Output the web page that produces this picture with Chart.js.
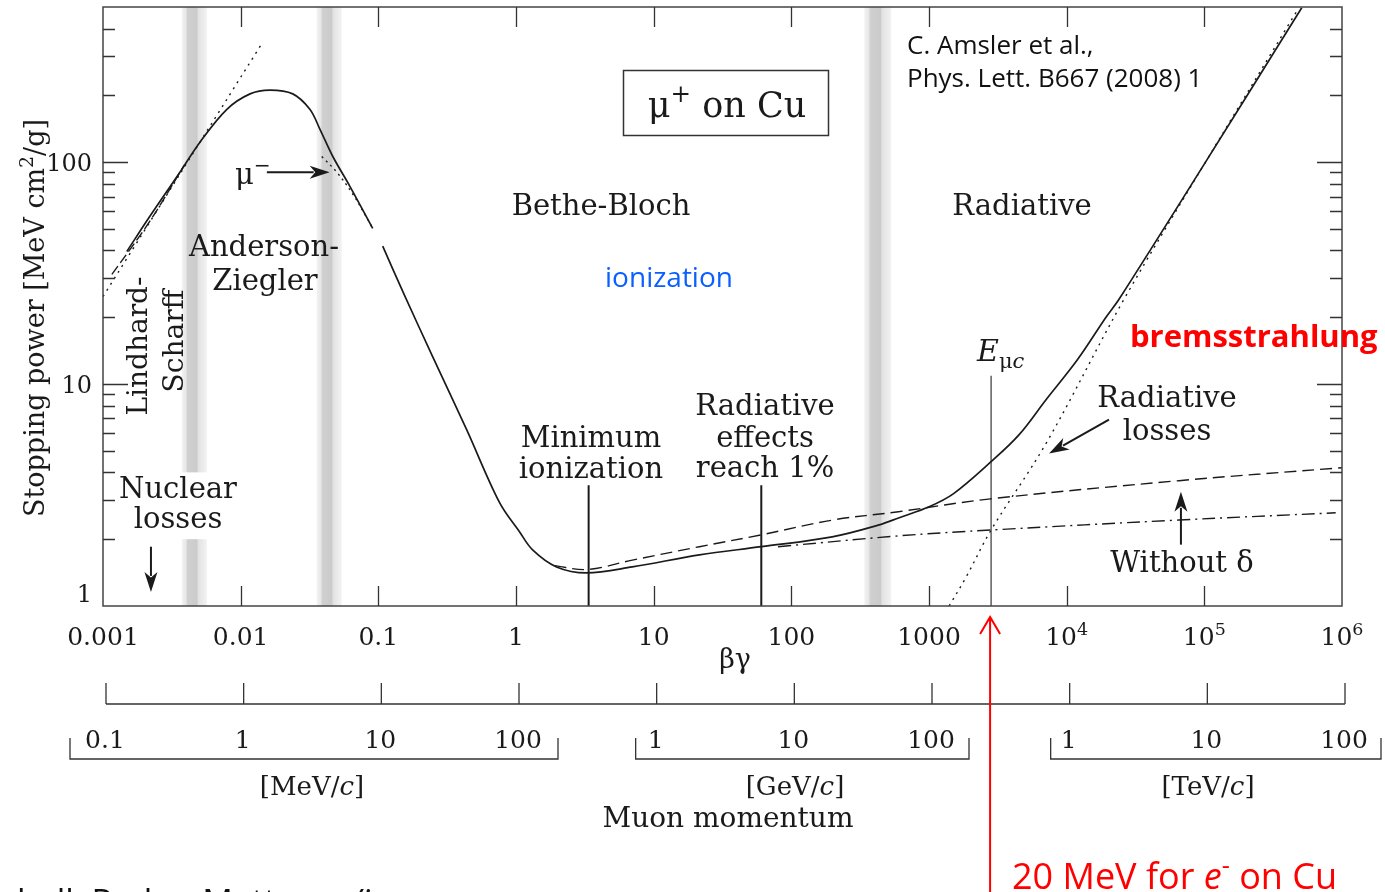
<!DOCTYPE html>
<html>
<head>
<meta charset="utf-8">
<title>Stopping power for μ+ on Cu</title>
<script src="https://cdn.jsdelivr.net/npm/chart.js@4.4.1/dist/chart.umd.min.js"></script>
<style>
  html, body { margin: 0; padding: 0; background: #fff; }
  #wrap { width: 1385px; height: 892px; }
</style>
</head>
<body>
<div id="wrap"><canvas id="chart" width="1385" height="892"></canvas></div>
<script>
// beta*gamma and stopping power [MeV cm2/g]
const totalBg = [0.00149, 0.00219, 0.00362, 0.00506, 0.00794, 0.0117, 0.0163, 0.0239, 0.0318, 0.0376, 0.0467, 0.062, 0.091,
  0.1, 0.1076, 0.155, 0.248, 0.438, 0.76, 1.06, 1.32, 1.97, 3.25, 7.0, 21.5, 60.5, 198, 435, 608, 1002, 1500, 2825, 4500, 7080,
  12000, 19300, 24000, 102000, 510000];
const totalS = [39.6, 57, 90, 123, 173, 203, 211, 203, 173, 141, 106, 78, 50.3,
  null, 41.8, 25.1, 13.3, 6.23, 2.92, 2.16, 1.79, 1.50, 1.41, 1.50, 1.70, 1.85, 2.05, 2.32, 2.5, 2.8, 3.2, 4.47, 5.9, 8.5,
  12.9, 20, 24.1, 100, 496];

// without density effect (dashed)
const noDeltaBg = [1.9, 3.3, 7, 21.5, 60, 200, 600, 2800, 65500, 1000000];
const noDeltaS = [1.52, 1.46, 1.61, 1.85, 2.09, 2.44, 2.66, 3.04, 3.67, 4.2];

// ionization only (dash-dot)
const ionBg = [80, 600, 2800, 65500, 900000];
const ionS = [1.85, 2.07, 2.2, 2.44, 2.63];

// radiative losses (dotted)
const radBg = [1400, 1860, 2825, 7080, 26000, 102000, 480000];
const radS = [1.0, 1.35, 2.2, 5.4, 24, 100, 490];

// low energy: Lindhard-Scharff (dashed) and dotted extrapolation
const lindBg = [0.00116, 0.00219, 0.0039];
const lindS = [31.2, 54.2, 97];
const lowDotBg = [0.001, 0.0145];
const lowDotS = [24.8, 348];

// mu- (dotted)
const muMinusBg = [0.0388, 0.05, 0.065, 0.08, 0.091];
const muMinusS = [106, 90, 72, 58, 50.3];

// marker lines
const minIonBg = 3.37;
const rad1Bg = 60.5;
const eMuC = 2825;
const markTop = 3.5;
const eMuCTop = 10.9;

// shaded regions (beta*gamma ranges)
const bands = [[0.00374, 0.00569], [0.0357, 0.0542], [339, 532]];
const nuclearGap = [2.0, 4.0];

// ticks
const xDecades = [0.001, 0.01, 0.1, 1, 10, 100, 1000, 1e4, 1e5, 1e6];
const xTickText = ['0.001', '0.01', '0.1', '1', '10', '100', '1000', '10^4', '10^5', '10^6'];
const yMajor = [1, 10, 100];
const yMinor = [2, 3, 4, 5, 6, 7, 8, 9, 20, 30, 40, 50, 60, 70, 80, 90, 200, 300, 400];
const momLabels = ['0.1', '1', '10', '100', '1', '10', '100', '1', '10', '100'];
const momUnits = ['[MeV/c]', '[GeV/c]', '[TeV/c]'];

// arrows [bg0, S0, bg1, S1]
const arrows = [
  [0.0155, 90.1, 0.0443, 90.1],
  [0.00223, 1.85, 0.00223, 1.157],
  [20300, 6.92, 7450, 4.86],
  [67600, 1.89, 67600, 3.27]
];

const SERIF = "'DejaVu Serif', serif";
const SANS = "'Open Sans', 'Noto Sans', sans-serif";
const INK = '#1a1a1a';

function pts(xs, ys) {
  return xs.map((x, i) => ({ x: x, y: ys[i] }));
}

function parseLabel(s) {
  const k = s.indexOf('^');
  if (k < 0) return [{ t: s }];
  return [{ t: s.slice(0, k) }, { t: s.slice(k + 1), sup: true }];
}

function rich(ctx, parts, x, y, size, family, align, color) {
  const fontOf = p => {
    const s = (p.sup || p.sub) ? size * 0.7 : size;
    return (p.it ? 'italic ' : '') + (p.bold ? 'bold ' : '') + s + 'px ' + family;
  };
  let w = 0;
  parts.forEach(p => { ctx.font = fontOf(p); p.w = ctx.measureText(p.t).width; w += p.w; });
  let cx = align === 'center' ? x - w / 2 : align === 'right' ? x - w : x;
  ctx.fillStyle = color || INK;
  ctx.textAlign = 'left';
  ctx.textBaseline = 'alphabetic';
  parts.forEach(p => {
    ctx.font = fontOf(p);
    const dy = p.sup ? -size * 0.42 : p.sub ? size * 0.22 : 0;
    ctx.fillText(p.t, cx, y + dy);
    cx += p.w;
  });
}

function arrow(ctx, x0, y0, x1, y1, len, half) {
  const a = Math.atan2(y1 - y0, x1 - x0);
  ctx.beginPath();
  ctx.moveTo(x0, y0);
  ctx.lineTo(x1 - Math.cos(a) * len * 0.8, y1 - Math.sin(a) * len * 0.8);
  ctx.stroke();
  ctx.beginPath();
  ctx.moveTo(x1, y1);
  ctx.lineTo(x1 - Math.cos(a) * len + Math.sin(a) * half, y1 - Math.sin(a) * len - Math.cos(a) * half);
  ctx.lineTo(x1 - Math.cos(a) * len * 0.72, y1 - Math.sin(a) * len * 0.72);
  ctx.lineTo(x1 - Math.cos(a) * len - Math.sin(a) * half, y1 - Math.sin(a) * len + Math.cos(a) * half);
  ctx.closePath();
  ctx.fill();
}

const decor = {
  id: 'decor',
  beforeDatasetsDraw(chart) {
    const { ctx, chartArea: a, scales: { x, y } } = chart;
    ctx.save();
    bands.forEach(([lo, hi]) => {
      const x0 = x.getPixelForValue(lo), x1 = x.getPixelForValue(hi);
      const g = ctx.createLinearGradient(x0, 0, x1, 0);
      g.addColorStop(0, '#f3f3f3');
      g.addColorStop(0.17, '#e6e6e6');
      g.addColorStop(0.22, '#d0d0d0');
      g.addColorStop(0.6, '#cbcbcb');
      g.addColorStop(0.66, '#e2e2e2');
      g.addColorStop(1, '#f3f3f3');
      ctx.fillStyle = g;
      ctx.fillRect(x0, a.top, x1 - x0, a.bottom - a.top);
    });
    // white gap behind "Nuclear losses"
    const b = bands[0];
    ctx.fillStyle = '#fff';
    const gx0 = x.getPixelForValue(b[0]) - 1, gx1 = x.getPixelForValue(b[1]) + 1;
    const gy0 = y.getPixelForValue(nuclearGap[1]), gy1 = y.getPixelForValue(nuclearGap[0]);
    ctx.fillRect(gx0, gy0, gx1 - gx0, gy1 - gy0);
    ctx.restore();
  },
  afterDatasetsDraw(chart) {
    const { ctx, chartArea: a, scales: { x, y } } = chart;
    ctx.save();

    // frame
    ctx.strokeStyle = '#444';
    ctx.lineWidth = 1.5;
    ctx.strokeRect(a.left, a.top, a.right - a.left, a.bottom - a.top);

    // ticks
    ctx.strokeStyle = '#333';
    ctx.lineWidth = 1.3;
    ctx.beginPath();
    yMajor.slice(1).forEach(v => {
      const py = Math.round(y.getPixelForValue(v)) + 0.5;
      ctx.moveTo(a.left, py); ctx.lineTo(a.left + 25, py);
      ctx.moveTo(a.right, py); ctx.lineTo(a.right - 25, py);
    });
    yMinor.forEach(v => {
      const py = Math.round(y.getPixelForValue(v)) + 0.5;
      ctx.moveTo(a.left, py); ctx.lineTo(a.left + 12, py);
      ctx.moveTo(a.right, py); ctx.lineTo(a.right - 12, py);
    });
    xDecades.slice(1, -1).forEach(v => {
      const px = Math.round(x.getPixelForValue(v)) + 0.5;
      ctx.moveTo(px, a.top); ctx.lineTo(px, a.top + 20);
      ctx.moveTo(px, a.bottom); ctx.lineTo(px, a.bottom - 20);
    });
    ctx.stroke();

    // y tick labels
    yMajor.forEach(v => {
      const py = y.getPixelForValue(v);
      rich(ctx, [{ t: String(v) }], a.left - 11, v === 1 ? py - 4 : py + 9, 24, SERIF, 'right');
    });
    // x tick labels
    xDecades.forEach((v, i) => {
      rich(ctx, parseLabel(xTickText[i]), x.getPixelForValue(v), a.bottom + 39, 25, SERIF, 'center');
    });
    rich(ctx, [{ t: 'βγ' }], 735, 668, 27, SERIF, 'center');

    // y title
    ctx.save();
    ctx.translate(44, 318);
    ctx.rotate(-Math.PI / 2);
    rich(ctx, [{ t: 'Stopping power [MeV cm' }, { t: '2', sup: true }, { t: '/g]' }], 0, 0, 27, SERIF, 'center');
    ctx.restore();

    // momentum axis
    const axY = 704, shift = 3;
    const mx = xDecades.map(v => x.getPixelForValue(v) + shift);
    ctx.strokeStyle = '#333';
    ctx.lineWidth = 1.3;
    ctx.beginPath();
    ctx.moveTo(mx[0], axY); ctx.lineTo(mx[mx.length - 1], axY);
    mx.forEach(px => { ctx.moveTo(px, axY); ctx.lineTo(px, axY - 21); });
    // brackets
    const br = [[mx[0] - 36, mx[3] + 39], [mx[4] - 21, mx[6] + 37], [mx[7] - 19, mx[9] + 36]];
    br.forEach(([l, r]) => {
      ctx.moveTo(l, 738); ctx.lineTo(l, 759); ctx.lineTo(r, 759); ctx.lineTo(r, 738);
    });
    ctx.stroke();
    momLabels.forEach((t, i) => rich(ctx, [{ t: t }], mx[i] - 1, 748, 25, SERIF, 'center'));
    const unitX = [312, 795, 1208];
    momUnits.forEach((u, i) => {
      const m = u.match(/^(\[\w+\/)(c)(\])$/);
      rich(ctx, [{ t: m[1] }, { t: m[2], it: true }, { t: m[3] }], unitX[i], 795, 26, SERIF, 'center');
    });
    rich(ctx, [{ t: 'Muon momentum' }], 728, 827, 28, SERIF, 'center');

    // annotations in the plot
    const serifTexts = [
      ['Anderson-', 264, 256], ['Ziegler', 265, 290],
      ['Nuclear', 178, 498], ['losses', 178, 528],
      ['Bethe-Bloch', 601, 215], ['Radiative', 1022, 215],
      ['Minimum', 591, 447], ['ionization', 591, 478],
      ['Radiative', 765, 415], ['effects', 765, 447], ['reach 1%', 765, 477],
      ['Radiative', 1167, 407], ['losses', 1167, 440],
      ['Without δ', 1182, 572]
    ];
    serifTexts.forEach(([t, px, py]) => rich(ctx, [{ t: t }], px, py, 29, SERIF, 'center'));
    rich(ctx, [{ t: 'μ' }, { t: '−', sup: true }], 235, 184, 29, SERIF, 'left');
    rich(ctx, [{ t: 'E', it: true }, { t: 'μ', sub: true }, { t: 'c', sub: true, it: true }], 977, 361, 30, SERIF, 'left');

    // rotated Lindhard-Scharff
    [['Lindhard-', 147, 346], ['Scharff', 183, 341]].forEach(([t, bx, cy]) => {
      ctx.save();
      ctx.translate(bx, cy);
      ctx.rotate(-Math.PI / 2);
      rich(ctx, [{ t: t }], 0, 0, 28, SERIF, 'center');
      ctx.restore();
    });

    // mu+ on Cu box
    ctx.strokeStyle = '#333';
    ctx.lineWidth = 1.5;
    ctx.strokeRect(623.5, 70.5, 205, 65);
    rich(ctx, [{ t: 'μ' }, { t: '+', sup: true }, { t: ' on Cu' }], 727, 117, 35, SERIF, 'center');

    // sans annotations
    rich(ctx, [{ t: 'C. Amsler et al.,' }], 907, 54, 26, SANS, 'left', '#111');
    rich(ctx, [{ t: 'Phys. Lett. B667 (2008) 1' }], 907, 87, 26, SANS, 'left', '#111');
    rich(ctx, [{ t: 'ionization' }], 669, 287, 28, SANS, 'center', '#0a5fff');
    rich(ctx, [{ t: 'bremsstrahlung', bold: true }], 1130, 347, 31, SANS, 'left', '#ff0000');

    // arrows
    ctx.strokeStyle = INK;
    ctx.fillStyle = INK;
    ctx.lineWidth = 2;
    arrows.forEach(([b0, s0, b1, s1]) => {
      arrow(ctx, x.getPixelForValue(b0), y.getPixelForValue(s0), x.getPixelForValue(b1), y.getPixelForValue(s1), 20, 6.5);
    });

    // red arrow at E_muc
    const rx = x.getPixelForValue(eMuC) - 1;
    ctx.strokeStyle = '#ff0000';
    ctx.lineWidth = 2;
    ctx.beginPath();
    ctx.moveTo(rx, 892); ctx.lineTo(rx, 617);
    ctx.moveTo(rx - 10, 634); ctx.lineTo(rx, 617); ctx.lineTo(rx + 10, 634);
    ctx.stroke();
    rich(ctx, [{ t: '20 MeV for ' }, { t: 'e', it: true }, { t: '-', sup: true }, { t: ' on Cu' }], 1012, 889, 36, SANS, 'left', '#ff0000');

    // cut-off caption at the bottom
    rich(ctx, [{ t: 'hall, Radon Matter   ' }, { t: 'r/ion', it: true }], 17, 914, 34, SANS, 'left', '#111');

    ctx.restore();
  }
};

function line(data, opts) {
  return Object.assign({
    data: data,
    borderColor: INK,
    borderWidth: 1.4,
    pointRadius: 0,
    fill: false,
    spanGaps: false,
    tension: 0.35
  }, opts);
}

new Chart(document.getElementById('chart'), {
  type: 'line',
  data: {
    datasets: [
      line(pts(totalBg, totalS), { borderWidth: 1.7 }),
      line(pts(noDeltaBg, noDeltaS), { borderDash: [12, 6] }),
      line(pts(ionBg, ionS), { borderDash: [13, 5, 2, 5] }),
      line(pts(radBg, radS), { borderDash: [2, 5] }),
      line(pts(lindBg, lindS), { borderDash: [10, 4] }),
      line(pts(lowDotBg, lowDotS), { borderDash: [2, 5] }),
      line(pts(muMinusBg, muMinusS), { borderDash: [2, 4] }),
      line(pts([minIonBg, minIonBg], [1, markTop]), { borderWidth: 2 }),
      line(pts([rad1Bg, rad1Bg], [1, markTop]), { borderWidth: 2 }),
      line(pts([eMuC, eMuC], [1, eMuCTop]), { borderWidth: 1.3, borderColor: '#444' })
    ]
  },
  options: {
    responsive: false,
    animation: false,
    devicePixelRatio: 1,
    layout: { padding: { left: 103, top: 7, right: 43, bottom: 286 } },
    plugins: { legend: { display: false }, tooltip: { enabled: false } },
    scales: {
      x: { type: 'logarithmic', min: 0.001, max: 1e6, display: false },
      y: { type: 'logarithmic', min: 1, max: 500, display: false }
    }
  },
  plugins: [decor]
});
</script>
</body>
</html>
